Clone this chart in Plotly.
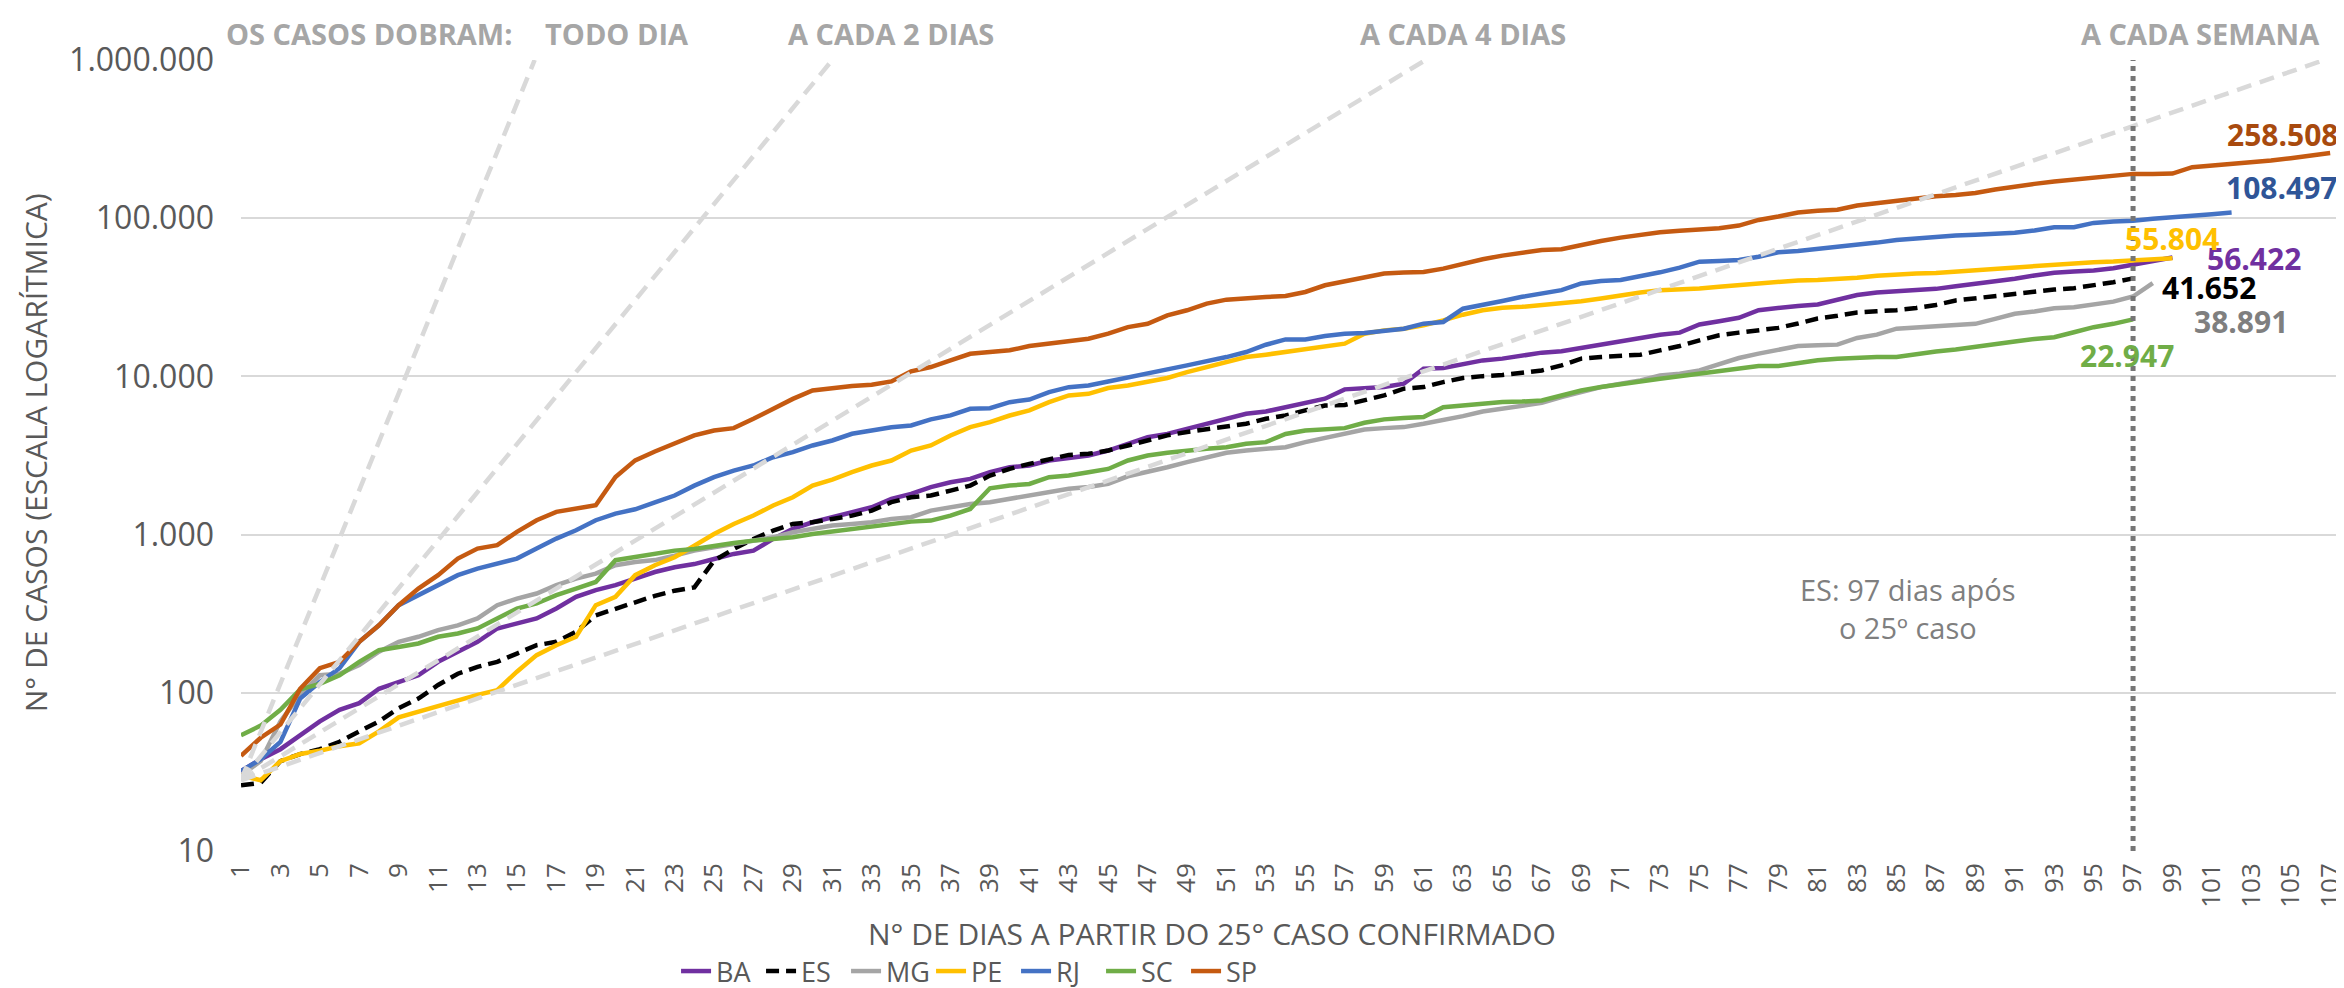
import plotly.graph_objects as go
import math

# ---------------- data ----------------
BA = [32, 38, 44, 54, 66, 78, 86, 106, 117, 129,
      157, 182, 210, 255, 274, 295, 341, 404, 446, 479,
      527, 580, 621, 651, 701, 755, 792, 939, 1087, 1197,
      1288, 1385, 1489, 1683, 1808, 1995, 2143, 2250, 2479, 2667,
      2733, 2940, 3050, 3160, 3400, 3750, 4130, 4330, 4660, 5020,
      5450, 5800, 6000, 6390, 6710, 7230, 8280, 8360, 8560, 8990,
      11190, 11300, 12030, 12620, 12950, 13590, 14130, 14420, 15140, 16120,
      16910, 17760, 18360, 18910, 21280, 22340, 23450, 26230, 27120, 27900,
      28500, 30350, 32660, 33920, 34580, 35300, 35750, 37140, 38440, 40360,
      41380, 43450, 45130, 46000, 46700, 48280, 50700, 53230, 56422]
ES = [26, 27, 37, 41, 44, 49, 57, 66, 80, 92,
      112, 132, 146, 157, 177, 200, 210, 243, 309, 341,
      376, 410, 442, 464, 684, 811, 939, 1059, 1167, 1197,
      1256, 1318, 1419, 1603, 1722, 1766, 1898, 2041, 2360, 2604,
      2800, 3010, 3190, 3240, 3400, 3660, 3940, 4240, 4450, 4620,
      4780, 5020, 5400, 5660, 6100, 6550, 6600, 7050, 7580, 8360,
      8560, 9200, 9770, 10040, 10200, 10540, 10910, 11740, 12940, 13270,
      13450, 13710, 14610, 15570, 16910, 18190, 18910, 19580, 20270, 21590,
      23230, 24160, 25360, 25840, 26230, 27100, 28300, 30200, 31200, 32400,
      33700, 34400, 35400, 36100, 37500, 39400, 41652]
MG = [30, 37, 66, 97, 129, 132, 150, 182, 210, 226,
      249, 267, 295, 358, 394, 424, 479, 527, 567, 640,
      671, 690, 736, 792, 832, 873, 916, 961, 1035, 1086,
      1140, 1168, 1197, 1256, 1288, 1418, 1489, 1563, 1603, 1683,
      1766, 1853, 1950, 1997, 2093, 2337, 2480, 2666, 2870, 3085,
      3290, 3400, 3485, 3570, 3840, 4070, 4330, 4620, 4710, 4780,
      5020, 5270, 5610, 6000, 6280, 6490, 6800, 7400, 7950, 8560,
      8980, 9440, 10150, 10400, 10910, 12030, 13070, 13930, 14840, 15570,
      15730, 15880, 17490, 18360, 20030, 20370, 20800, 21200, 21500, 23100,
      24900, 25700, 27000, 27400, 28700, 29700, 32000, 38891]
PE = [30, 28, 37, 41, 43, 46, 48, 57, 70, 76,
      82, 90, 97, 104, 136, 173, 200, 226, 358, 404,
      554, 640, 719, 851, 1009, 1168, 1320, 1528, 1723, 2042,
      2229, 2479, 2733, 2940, 3400, 3660, 4236, 4780, 5140, 5660,
      6100, 6870, 7580, 7760, 8440, 8770, 9200, 9770, 10650, 11400,
      12310, 13250, 13710, 14260, 14760, 15340, 16100, 18620, 19540, 20030,
      21030, 22600, 24550, 26170, 27200, 27530, 28200, 28900, 29900, 31110,
      32660, 33920, 35100, 35450, 35970, 36870, 37800, 38700, 39660, 40440,
      40660, 41060, 42060, 43300, 44140, 44650, 45100, 46000, 46700, 47860,
      49020, 50200, 51200, 51970, 52740, 53230, 53980, 54800, 55804]
RJ = [32, 38, 49, 92, 117, 143, 210, 267, 358, 414,
      479, 554, 610, 656, 705, 816, 944, 1065, 1233, 1358,
      1445, 1600, 1766, 2040, 2306, 2540, 2735, 3085, 3320, 3660,
      3935, 4337, 4550, 4775, 4897, 5350, 5665, 6240, 6300, 6870,
      7140, 7950, 8550, 8770, 9290, 9900, 10400, 11080, 11740, 12440,
      13250, 14260, 15850, 17140, 17140, 17990, 18620, 18800, 19540, 20030,
      21540, 22080, 26800, 28130, 30000, 31840, 33420, 35100, 38700, 40060,
      40660, 42700, 45480, 48660, 53100, 53600, 54400, 57100, 60860, 62060,
      63860, 65120, 67730, 70100, 72900, 74750, 75900, 77700, 78500, 79300,
      80800, 83600, 87700, 87700, 93400, 95300, 96200, 99100, 101900, 103900,
      106000, 108497]
SC = [54, 62, 78, 105, 114, 129, 157, 186, 195, 205,
      226, 237, 255, 295, 341, 367, 414, 456, 502, 689,
      723, 765, 792, 811, 851, 885, 916, 939, 961, 1009,
      1045, 1076, 1112, 1167, 1208, 1226, 1318, 1452, 1963, 2041,
      2090, 2306, 2361, 2478, 2600, 2940, 3160, 3290, 3400, 3485,
      3570, 3750, 3840, 4330, 4550, 4660, 4710, 5090, 5350, 5450,
      5530, 6390, 6550, 6710, 6880, 6940, 7050, 7570, 8150, 8560,
      8980, 9290, 9660, 10040, 10400, 10910, 11290, 11640, 11640, 12210,
      12630, 12940, 13190, 13270, 13270, 13900, 14350, 14790, 15300, 15820,
      16600, 17260, 17690, 19000, 20470, 21490, 22947]
SP = [40, 52, 63, 106, 143, 157, 210, 267, 358, 456,
      554, 705, 816, 857, 1040, 1233, 1392, 1459, 1532, 2312,
      2947, 3350, 3750, 4236, 4550, 4710, 5400, 6240, 7210, 8150,
      8430, 8690, 8850, 9290, 10760, 11460, 12630, 13900, 14260, 14620,
      15560, 16100, 16900, 17300, 18620, 20500, 21500, 24300, 26170, 28840,
      30560, 31320, 31780, 32240, 34170, 37660, 39900, 41900, 44650, 45300,
      45740, 48000, 51650, 55000, 58000, 60860, 63030, 63600, 67730, 71760,
      75370, 78350, 81460, 83170, 84400, 86460, 89800, 97500, 102400, 108600,
      111300, 113000, 120300, 124400, 130600, 134700, 137800, 140300, 144500, 151700,
      159300, 164800, 170600, 175500, 179000, 184200, 190600, 190600, 191400, 210100,
      215200, 219400, 223900, 231500, 239500, 249000, 258508]

states = ["BA", "ES", "MG", "PE", "RJ", "SC", "SP"]
series = [BA, ES, MG, PE, RJ, SC, SP]

# doubling reference lines: (start day, start value) -> (end day, end value)
ref_names = ["TODO DIA", "A CADA 2 DIAS", "A CADA 4 DIAS", "A CADA SEMANA"]
ref_x = [[1, 15.9], [1, 31.0], [1, 61.1], [1, 106.7]]
ref_y = [[28, 1000000], [28, 1000000], [28, 1000000], [28, 1000000]]

x_ticks = list(range(1, 108, 2))
x_ticktext = [str(v) for v in x_ticks]
y_ticks = [10, 100, 1000, 10000, 100000, 1000000]
y_ticktext = ["10", "100", "1.000", "10.000", "100.000", "1.000.000"]

es_day = 97
# ---------------- style ----------------
line_colors = {"BA": "#7030A0", "ES": "#000000", "MG": "#A5A5A5", "PE": "#FFC000",
               "RJ": "#4472C4", "SC": "#70AD47", "SP": "#C55A11"}
label_colors = {"BA": "#7030A0", "ES": "#000000", "MG": "#7F7F7F", "PE": "#FFC000",
                "RJ": "#2F5597", "SC": "#70AD47", "SP": "#A84A0E"}
label_shift = {"SP": (-48, 18), "RJ": (50, 25), "PE": (0, 20), "BA": (82, -1),
               "ES": (76, -9), "MG": (88, -38), "SC": (-6, -36)}
FONT = "Open Sans"
TXT = "#595959"

fig = go.Figure()
for name, vals in zip(states, series):
    days = list(range(1, len(vals) + 1))
    dash = "13px,7px" if name == "ES" else "solid"
    fig.add_trace(go.Scatter(x=days, y=vals, mode="lines", name=name,
                             line=dict(color=line_colors[name], width=4.5, dash=dash)))

for rx, ry in zip(ref_x, ref_y):
    fig.add_trace(go.Scatter(x=rx, y=ry, mode="lines", showlegend=False, hoverinfo="skip",
                             line=dict(color="#D9D9D9", width=4.5, dash="15px,9px")))

fig.add_shape(type="line", xref="x", yref="paper", x0=es_day, x1=es_day, y0=0, y1=1,
              line=dict(color="#767676", width=5, dash="5px,5px"), layer="above")

# end labels
for name, vals in zip(states, series):
    xs, ys = label_shift[name]
    fig.add_annotation(x=len(vals), y=math.log10(vals[-1]), xref="x", yref="y",
                       text="{:,}".format(vals[-1]).replace(",", "."), showarrow=False,
                       xshift=xs, yshift=ys, borderpad=0,
                       font=dict(family=FONT, size=30, color=label_colors[name], weight="bold"))

# header texts
hdr = dict(family=FONT, size=29, color="#A6A6A6", weight="bold")
fig.add_annotation(x=7.5, y=1.034, xref="x", yref="paper", text="OS CASOS DOBRAM:",
                   showarrow=False, font=hdr, yanchor="middle")
for txt, xc in zip(ref_names, [20.1, 34.0, 63.0, 100.4]):
    fig.add_annotation(x=xc, y=1.034, xref="x", yref="paper", text=txt,
                       showarrow=False, font=hdr, yanchor="middle")

fig.add_annotation(x=85.6, y=2.536, xref="x", yref="y",
                   text="ES: 97 dias após<br>o 25º caso", showarrow=False,
                   font=dict(family=FONT, size=29, color="#7F7F7F"))

# axis titles
fig.add_annotation(x=0.4626, y=-0.104, xref="paper", yref="paper", xanchor="center",
                   text="N° DE DIAS A PARTIR DO 25° CASO CONFIRMADO", showarrow=False,
                   borderpad=0,
                   font=dict(family=FONT, size=30, color=TXT), yanchor="middle")
fig.add_annotation(x=-0.0981, y=0.503, xref="paper", yref="paper", xanchor="center",
                   yanchor="middle",
                   text="N° DE CASOS (ESCALA LOGARÍTMICA)", showarrow=False, textangle=-90,
                   font=dict(family=FONT, size=30, color=TXT))

fig.update_layout(
    width=2344, height=988,
    margin=dict(l=233, r=12, t=52, b=145, autoexpand=False),
    paper_bgcolor="white", plot_bgcolor="white",
    font=dict(family=FONT, color=TXT),
    showlegend=True,
    legend=dict(orientation="h", x=0.349, xanchor="center", xref="paper",
                y=0.0, yref="container", yanchor="bottom",
                font=dict(family=FONT, size=27, color=TXT), entrywidth=40,
                entrywidthmode="pixels"),
    xaxis=dict(range=[1, 107.5], tickmode="array", tickvals=x_ticks, ticktext=x_ticktext,
               tickangle=-90, tickfont=dict(family=FONT, size=26, color=TXT),
               showgrid=False, zeroline=False, showline=False, ticks="",
               ticklabelstandoff=6, automargin=False),
    yaxis=dict(type="log", range=[1, 6], tickmode="array", tickvals=y_ticks,
               ticktext=y_ticktext, tickfont=dict(family=FONT, size=32, color=TXT),
               showgrid=True, gridcolor="#D9D9D9", gridwidth=2, zeroline=False,
               showline=False, ticks="", ticklabelstandoff=26, automargin=False),
)

fig.write_html("out.html")
